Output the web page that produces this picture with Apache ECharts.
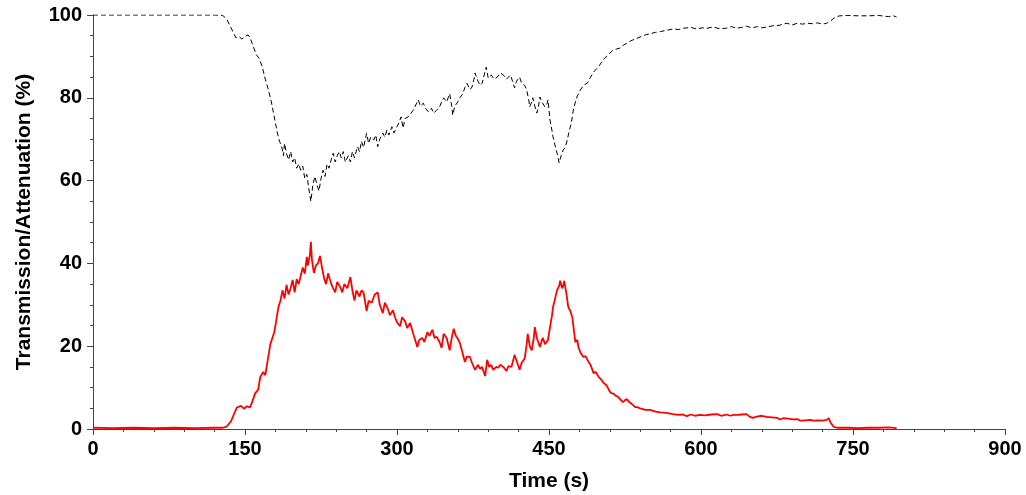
<!DOCTYPE html>
<html>
<head>
<meta charset="utf-8">
<script src="https://cdn.jsdelivr.net/npm/echarts@6/dist/echarts.min.js"></script>
<style>
  html, body { margin: 0; padding: 0; background: #fff; }
  #chart { width: 1026px; height: 495px; }
</style>
</head>
<body>
<div id="chart"></div>
<script>
// Time (s) ticks
var xTicks = [0, 150, 300, 450, 600, 750, 900];
var yTicks = [0, 20, 40, 60, 80, 100];

// Transmission (%) — red solid line, [time, value]
var transmission = [
[0,0.3],[20,0.2],[40,0.3],[60,0.2],[80,0.3],[100,0.2],[120,0.3],[128,0.3],[132,0.6],[136,1.8],[139,3.5],[142,5.2],[146,5.6],[149,4.9],[152,5.5],[155,5.2],[157,6.5],[160,8.6],[163,9.5],[165,12.5],[168,13.8],[170,13.0],[173,17.5],[175,20.5],[177,22.0],[179,23.5],[181,26.5],[183,29.5],[185,31.0],[187,33.5],[189,31.5],[191,34.8],[193,32.5],[195,34.0],[197,36.0],[199,33.0],[201,36.2],[203,35.0],[205,37.0],[207,39.0],[209,37.5],[211,41.6],[212,39.5],[214,42.0],[215,45.2],[216,41.0],[218,37.7],[220,39.5],[222,40.0],[224,41.8],[226,39.0],[228,36.5],[230,35.0],[232,37.6],[234,36.0],[236,34.5],[239,33.0],[241,35.5],[244,34.3],[246,33.0],[248,35.0],[251,34.0],[254,36.7],[256,33.5],[258,31.0],[260,33.5],[263,32.0],[265,33.5],[267,33.0],[270,28.5],[272,31.0],[275,30.5],[278,32.5],[281,33.0],[283,30.0],[286,28.0],[288,30.5],[291,29.0],[293,27.5],[296,28.7],[298,27.0],[300,25.8],[303,24.8],[305,27.0],[308,26.0],[310,24.4],[313,25.6],[316,23.0],[318,21.5],[320,19.8],[322,21.5],[325,22.0],[327,21.0],[330,23.4],[332,22.5],[335,24.0],[337,22.0],[339,22.3],[342,21.0],[344,19.6],[346,23.0],[349,22.0],[352,19.0],[354,22.0],[356,24.2],[358,22.5],[360,21.8],[362,20.8],[364,19.0],[367,16.2],[369,17.5],[372,17.4],[374,16.0],[377,14.3],[380,15.5],[382,14.5],[384,15.0],[386,13.5],[387,12.8],[389,16.7],[391,15.0],[393,15.5],[395,14.3],[398,15.0],[400,14.8],[402,15.5],[405,15.0],[408,14.0],[410,15.2],[413,15.0],[416,17.9],[418,16.5],[421,14.3],[423,16.0],[426,17.0],[428,20.5],[429,23.0],[431,20.0],[433,19.0],[435,22.0],[436,24.6],[438,22.0],[441,19.8],[443,21.5],[444,22.0],[446,20.5],[449,21.5],[451,24.6],[453,27.5],[454,29.5],[456,31.5],[458,33.6],[460,34.5],[461,35.8],[463,34.0],[464,34.5],[465,35.8],[467,33.0],[469,29.5],[471,28.5],[473,27.0],[475,23.0],[476,21.0],[478,21.5],[479,19.8],[481,18.5],[484,17.4],[486,17.6],[489,16.2],[491,15.5],[494,13.5],[496,13.8],[499,12.6],[502,11.8],[504,11.1],[507,10.5],[509,9.5],[511,8.7],[514,8.5],[516,8.0],[518,7.8],[521,7.0],[523,6.5],[525,7.0],[527,7.2],[529,6.5],[532,6.0],[535,5.3],[537,5.3],[540,5.0],[545,4.6],[550,4.6],[555,4.2],[560,4.0],[566,3.9],[572,3.6],[578,3.4],[582,3.5],[586,3.1],[590,3.5],[594,3.2],[599,3.4],[604,3.3],[610,3.5],[616,3.6],[620,3.2],[625,3.5],[629,3.2],[632,3.4],[636,3.4],[640,3.5],[645,3.6],[648,3.0],[651,2.7],[655,3.0],[660,3.2],[665,2.9],[670,2.8],[675,2.7],[678,2.3],[681,2.6],[686,2.5],[691,2.3],[695,2.4],[698,2.0],[703,2.1],[708,2.2],[711,2.0],[716,2.1],[720,2.0],[724,2.2],[726,2.6],[728,1.5],[731,0.5],[735,0.3],[745,0.3],[755,0.2],[765,0.3],[775,0.3],[785,0.4],[793,0.2]
];

// Attenuation (%) — black dashed line, [time, value]
var attenuation = [
[0,100],[40,100],[80,100],[120,100],[128,99.9],[132,99],[135,97.5],[138,96],[141,94.5],[144,94.8],[147,94.2],[150,94.8],[153,95.2],[155,94.5],[158,92.5],[161,90.5],[164,89.5],[167,87.5],[170,84.5],[173,82],[176,79],[178,76.5],[180,74],[182,71.5],[184,69.5],[186,68.5],[188,66],[189,69],[191,66.5],[193,65],[195,67],[197,64.5],[199,65.5],[201,63],[203,64],[205,62.5],[207,63.5],[209,60.5],[211,61.5],[213,58],[215,55],[217,59],[219,61],[221,59],[223,57.5],[225,60.5],[227,62.5],[229,61],[231,64],[233,63],[235,65],[237,66.6],[239,64.5],[241,66],[243,67],[245,65.5],[247,67],[249,64.5],[252,66],[254,64.5],[256,67],[258,65.5],[261,68.2],[263,67],[265,69.5],[267,68],[270,71.4],[272,69],[274,70.5],[277,69.8],[279,71],[281,68.2],[283,70],[286,71.5],[288,70.5],[290,72.2],[292,71],[295,73],[297,71.5],[300,73],[302,74],[304,75.4],[306,72.7],[308,75],[311,75.4],[313,76],[316,77],[318,78],[321,79.5],[323,78],[326,78.7],[328,77.5],[331,76.6],[334,77.5],[336,76.3],[339,77],[342,77.8],[344,79],[346,80],[349,79],[352,81],[354,78],[355,75.8],[357,78],[360,79],[362,80],[365,81],[367,82.5],[369,83.5],[372,82],[374,82.6],[376,84.5],[377,86],[380,84],[382,83],[384,83.5],[386,85.5],[388,87.4],[390,84.8],[393,85.5],[396,84.5],[399,85],[402,86],[405,85.5],[408,84.5],[410,85],[412,85.5],[414,84],[416,82.4],[418,84],[421,85],[423,83.5],[426,83],[428,81.9],[430,79.5],[431,77.8],[433,79],[434,80],[436,78],[438,76.3],[440,78.5],[441,80.2],[443,79],[446,77.8],[448,78.5],[449,79.5],[451,74.6],[453,72],[454,70.5],[456,68.5],[458,66.6],[460,64.3],[462,66],[464,67.4],[466,68],[468,69.8],[470,72],[472,73.9],[474,77],[476,79],[478,80.5],[481,81.9],[484,83],[488,83.6],[491,85],[494,86.2],[497,87],[500,87.9],[503,89],[505,89.6],[509,90.5],[513,91.5],[517,91.8],[520,92],[524,92.8],[527,93.2],[531,93.8],[535,94.2],[540,94.7],[545,95.2],[550,95.5],[555,95.8],[560,96],[566,96.3],[572,96.6],[578,96.5],[583,96.8],[590,97],[596,96.6],[601,96.9],[606,96.8],[612,97.1],[618,96.7],[625,96.8],[630,97.2],[635,96.8],[640,97],[645,97.3],[650,96.9],[656,97.2],[660,96.9],[665,97.1],[671,97.4],[677,97.5],[681,97.8],[685,98],[690,97.6],[695,98],[700,97.8],[705,98],[710,97.9],[715,98.1],[720,97.8],[724,98],[728,98.6],[731,99.2],[734,99.6],[737,99.8],[745,99.9],[755,99.8],[765,99.8],[775,99.9],[785,99.6],[790,99.8],[793,99.5]
];

var chart = echarts.init(document.getElementById('chart'), null, { renderer: 'canvas' });
var fontFamily = 'Liberation Sans, Arial, sans-serif';
var tickFont = { color: '#000', fontSize: 20, fontWeight: 'bold', fontFamily: fontFamily };
var titleFont = { color: '#000', fontSize: 21, fontWeight: 'bold', fontFamily: fontFamily };
var axisColor = '#444';

chart.setOption({
  animation: false,
  backgroundColor: '#fff',
  grid: { left: 93, right: 21, top: 15, bottom: 66, containLabel: false, outerBoundsMode: 'none' },
  xAxis: {
    type: 'value',
    min: xTicks[0], max: xTicks[xTicks.length - 1], interval: xTicks[1] - xTicks[0],
    name: 'Time (s)', nameLocation: 'middle', nameGap: 42,
    nameTextStyle: titleFont,
    axisLine: { show: true, onZero: false, lineStyle: { color: axisColor, width: 1 } },
    axisTick: { show: true, inside: false, length: 6, lineStyle: { color: axisColor } },
    minorTick: { show: true, splitNumber: 5, length: 3, lineStyle: { color: axisColor } },
    axisLabel: Object.assign({ margin: 10 }, tickFont),
    splitLine: { show: false }, minorSplitLine: { show: false }
  },
  yAxis: {
    type: 'value',
    min: yTicks[0], max: yTicks[yTicks.length - 1], interval: yTicks[1] - yTicks[0],
    name: 'Transmission/Attenuation (%)', nameLocation: 'middle', nameGap: 58,
    nameTextStyle: titleFont,
    axisLine: { show: true, onZero: false, lineStyle: { color: axisColor, width: 1 } },
    axisTick: { show: true, inside: false, length: 6, lineStyle: { color: axisColor } },
    minorTick: { show: true, splitNumber: 4, length: 3, lineStyle: { color: axisColor } },
    axisLabel: Object.assign({ margin: 11 }, tickFont),
    splitLine: { show: false }, minorSplitLine: { show: false }
  },
  series: [
    {
      name: 'Attenuation', type: 'line', data: attenuation, showSymbol: false, symbol: 'none',
      lineStyle: { color: '#000', width: 1, type: [5, 3] }, z: 2
    },
    {
      name: 'Transmission', type: 'line', data: transmission, showSymbol: false, symbol: 'none',
      lineStyle: { color: '#ff0000', width: 1.8 }, z: 3
    }
  ]
});
</script>
</body>
</html>
